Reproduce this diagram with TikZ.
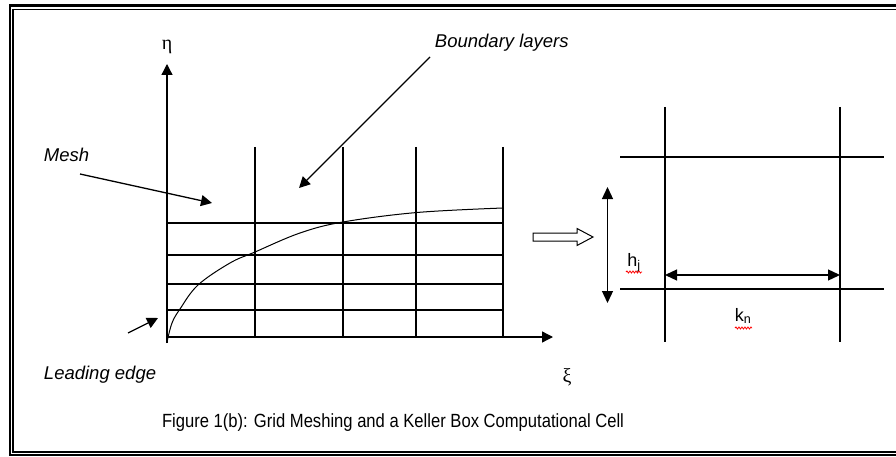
\documentclass[tikz,border=0pt]{standalone}
\usepackage{graphicx}
\usepackage{fontspec}
\setmainfont{Liberation Sans}
\newfontfamily\greekfont{Liberation Serif}
\usetikzlibrary{arrows.meta, decorations.pathmorphing}

\begin{document}
\begin{tikzpicture}[x=1pt, y=-1pt, line width=1.3pt,
    pointer/.style={-{Triangle[length=11pt,width=11pt]}},
    dbl/.style={{Triangle[length=12pt,width=11pt]}-{Triangle[length=12pt,width=11pt]}},
    lbl/.style={font=\fontsize{18.5}{22}\selectfont\itshape},
    sym/.style={font=\fontsize{18}{22}\selectfont},
    greek/.style={font=\fontsize{20}{24}\selectfont\greekfont},
    spell/.style={red, line width=0.8pt, decorate, decoration={snake, amplitude=1pt, segment length=3pt}}]
    \useasboundingbox (0,0) rectangle (896,457);
    \draw[line width=2.4pt] (897,5.7) -- (10,5.7) -- (10,455) -- (897,455);
    \draw[line width=1.6pt] (897,9.5) -- (13.2,9.5) -- (13.2,452) -- (897,452);

    \foreach \x in {255,343,416,503} \draw (\x,147) -- (\x,337);
    \foreach \y in {223,255,284,310} \draw (167,\y) -- (503,\y);
    \coordinate (O) at (167,337);
    \coordinate (foot) at (167,343);
    \coordinate (etaend) at (167,64);
    \coordinate (xiend) at (553,337);
    \draw[pointer] (foot) -- (etaend);
    \draw[pointer] (O) -- (xiend);
    \draw[line width=1pt] plot[smooth, tension=0.6] coordinates {(167,342) (172,323) (180,309) (198,285) (230,263) (255,252) (300,233) (343,222) (417,212.5) (503,208)};

    \node[greek] (eta) at (167,47) {η};
    \node[greek] (xi) at (567,377) {ξ};

    \node[lbl, anchor=west] (mesh) at (40,155) {Mesh};
    \coordinate (meshtail) at (80,174);
    \coordinate (meshtip) at (212,203);
    \draw[pointer] (meshtail) -- (meshtip);

    \node[lbl, anchor=west] (bl) at (431,43) {Boundary layers};
    \coordinate (bltail) at (430,57);
    \coordinate (bltip) at (299,188);
    \draw[pointer] (bltail) -- (bltip);

    \node[lbl, anchor=west] (le) at (40,375) {Leading edge};
    \coordinate (letail) at (128,333);
    \coordinate (letip) at (158,318);
    \draw[pointer] (letail) -- (letip);

    \draw[line width=1pt] (533,233) -- (577,233) -- (577,228.5) -- (593,237) -- (577,245.5) -- (577,241) -- (533,241) -- cycle;

    \draw (665,107) -- (665,342);
    \draw (840,107) -- (840,342);
    \draw (620,157) -- (884,157);
    \draw (620,289) -- (884,289);
    \coordinate (htop) at (607.5,187);
    \coordinate (hbot) at (607.5,303);
    \coordinate (kleft) at (665,275);
    \coordinate (kright) at (840,275);
    \draw[dbl] (htop) -- (hbot);
    \draw[dbl] (kleft) -- (kright);
    \node[sym] (hj) at (634,263) {h\textsubscript{j}};
    \node[sym] (kn) at (743,316) {k\textsubscript{n}};
    \draw[spell] (626,272) -- (642,272);
    \draw[spell] (735,328) -- (752,328);

    \node[font=\fontsize{16.6}{20}\selectfont] (cap) at (393,423) {\scalebox{1}[1.15]{Figure 1(b): Grid Meshing and a Keller Box Computational Cell}};
\end{tikzpicture}
\end{document}
